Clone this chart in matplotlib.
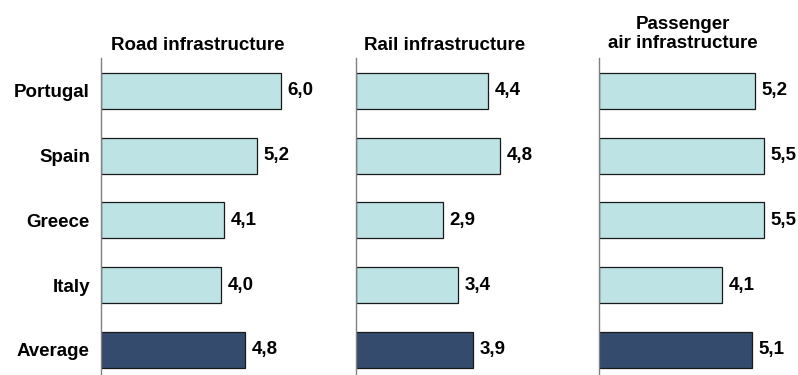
import matplotlib.pyplot as plt

# ======= data ==========
countries = ["Portugal", "Spain", "Greece", "Italy", "Average"]
road = [6.0, 5.2, 4.1, 4.0, 4.8]
rail = [4.4, 4.8, 2.9, 3.4, 3.9]
air = [5.2, 5.5, 5.5, 4.1, 5.1]
titles = ["Road infrastructure", "Rail infrastructure", "Passenger\nair infrastructure"]
# =======================

light = "#bde3e5"
dark = "#354b6d"
W, H = 798, 375
fs = 13.5

plt.rcParams["font.family"] = ["Liberation Sans", "DejaVu Sans"]
fig = plt.figure(figsize=(W / 100, H / 100), dpi=100)

lefts = [101, 356, 599]
title_x = [198, 445, 683]
title_y = [45, 45, 34]

for i, (vals, title) in enumerate(zip([road, rail, air], titles)):
    ax = fig.add_axes([lefts[i] / W, 0, 195 / W, 317 / H])
    colors = [light] * (len(vals) - 1) + [dark]
    ypos = range(len(countries))
    ax.barh(ypos, vals, height=0.56, color=colors, edgecolor="#1a1a1a", linewidth=0.9)
    for y, v in zip(ypos, vals):
        ax.text(v + 0.22, y, f"{v:.1f}".replace(".", ","), va="center", ha="left",
                fontsize=fs, fontweight="bold")
    ax.set_xlim(0, 6.5)
    ax.set_ylim(4.39, -0.51)
    ax.set_xticks([])
    ax.set_yticks(list(ypos))
    if i == 0:
        ax.set_yticklabels(countries, fontsize=fs, fontweight="bold")
    else:
        ax.set_yticklabels([])
    ax.tick_params(axis="y", length=0, pad=8)
    for s in ["top", "right", "bottom"]:
        ax.spines[s].set_visible(False)
    ax.spines["left"].set_color("#808080")
    ax.spines["left"].set_linewidth(1.0)
    ax.patch.set_alpha(0)
    fig.text(title_x[i] / W, 1 - title_y[i] / H, title, ha="center", va="center",
             multialignment="center", fontsize=fs, fontweight="bold", linespacing=1.1)

fig.savefig("out.png", dpi=100)
plt.close(fig)
